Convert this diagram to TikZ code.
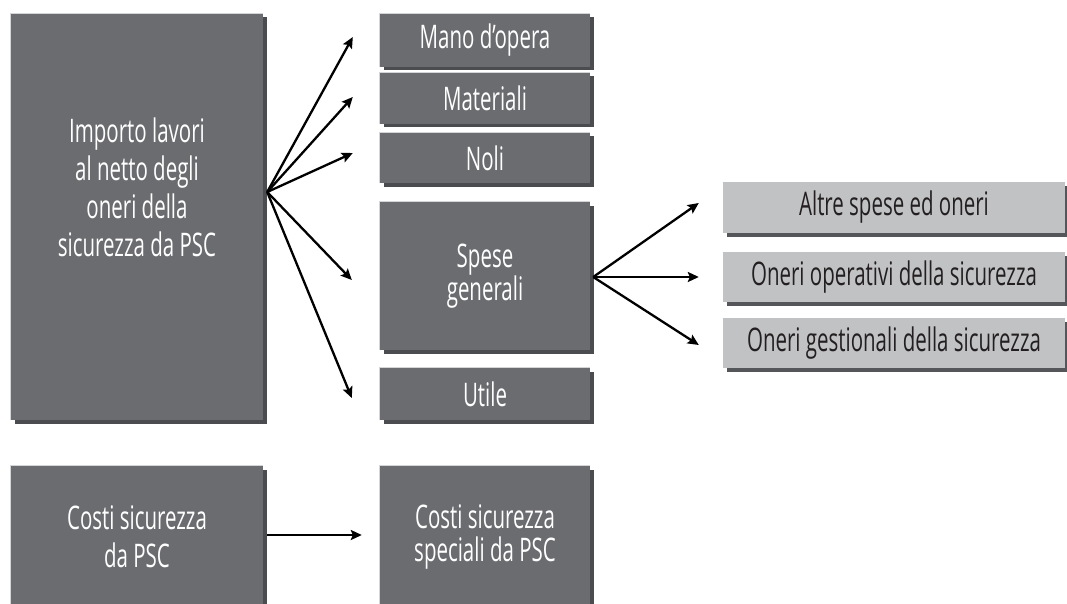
\documentclass[tikz,border=0pt]{standalone}
\usepackage{fontspec}
\setmainfont{Open Sans}[FakeStretch=0.63]
\usetikzlibrary{shadows,arrows.meta}
\definecolor{boxdark}{HTML}{6B6C70}
\definecolor{shdark}{HTML}{4B4C4F}
\definecolor{boxlight}{HTML}{C1C2C4}
\definecolor{shlight}{HTML}{55565A}
\definecolor{txtdark}{HTML}{231F20}
\definecolor{edgelight}{HTML}{D4D5D7}
\tikzset{
  bigfont/.style={font=\fontsize{32.5}{38}\selectfont},
  smallfont/.style={font=\fontsize{32.5}{33}\selectfont},
  darkbox/.style={fill=boxdark, inner sep=0pt, text=white, align=center, bigfont,
    drop shadow={shadow xshift=3.5pt, shadow yshift=-3.5pt, fill=shdark, opacity=1},
    append after command={
      \pgfextra{\draw[edgelight, line width=0.8pt]
        (\tikzlastnode.south west) -- (\tikzlastnode.north west) -- (\tikzlastnode.north east);}}},
  lightbox/.style={fill=boxlight, inner sep=0pt, text=txtdark, align=center,
    minimum width=342pt, minimum height=50pt, bigfont,
    drop shadow={shadow xshift=4pt, shadow yshift=-4pt, fill=shlight, opacity=1}},
  midbox/.style={darkbox, minimum width=210pt},
  arr/.style={line width=2.3pt, -{Stealth[length=11pt,width=10pt,inset=2pt]}}
}
\begin{document}
\begin{tikzpicture}[x=1pt,y=-1pt]
\useasboundingbox (0,0) rectangle (1067,604);
\fill[white] (0,0) rectangle (1067,604);
% left column
\node[darkbox, minimum width=252pt, minimum height=406pt] (imp) at (137,217) {};
\node[text=white, align=center, bigfont, inner sep=0pt] (imptxt) at (137,187)
  {Importo lavori\\al netto degli\\oneri della\\sicurezza da PSC};
\node[darkbox, minimum width=252pt, minimum height=142pt] (costiL) at (137,537)
  {Costi sicurezza\\da PSC};
% middle column
\node[midbox, minimum height=53pt] (mano) at (485,40.5) {Mano d’opera};
\node[midbox, minimum height=51pt] (mat) at (485,98.5) {Materiali};
\node[midbox, minimum height=50pt] (noli) at (485,158) {Noli};
\node[midbox, minimum height=148pt, smallfont] (spese) at (485,276) {Spese\\generali};
\node[midbox, minimum height=52pt] (utile) at (485,394) {Utile};
\node[midbox, minimum height=142pt, smallfont] (costiR) at (485,537)
  {Costi sicurezza\\speciali da PSC};
% right column
\node[lightbox, minimum height=51pt] (altre) at (894,207.5) {Altre spese ed oneri};
\node[lightbox] (oper) at (894,277) {Oneri operativi della sicurezza};
\node[lightbox] (gest) at (894,343) {Oneri gestionali della sicurezza};
% connector points
\coordinate (o1) at ([xshift=4pt]imp.east |- 0,192);
\coordinate (t1) at ([xshift=-27pt,yshift=3.5pt]mano.west);
\coordinate (t2) at ([xshift=-27pt,yshift=1.5pt]mat.west);
\coordinate (t3) at ([xshift=-27pt,yshift=5pt]noli.west);
\coordinate (t4) at ([xshift=-28pt,yshift=-4pt]spese.west);
\coordinate (t5) at ([xshift=-28pt,yshift=-4pt]utile.west);
\draw[arr] (o1) -- (t1);
\draw[arr] (o1) -- (t2);
\draw[arr] (o1) -- (t3);
\draw[arr] (o1) -- (t4);
\draw[arr] (o1) -- (t5);
\coordinate (o2) at ([xshift=3pt,yshift=-1pt]spese.east);
\coordinate (s1) at ([xshift=-24pt,yshift=4.5pt]altre.west);
\coordinate (s2) at ([xshift=-24pt]oper.west);
\coordinate (s3) at ([xshift=-24pt,yshift=-2pt]gest.west);
\draw[arr] (o2) -- (s1);
\draw[arr] (o2) -- (s2);
\draw[arr] (o2) -- (s3);
\coordinate (o3) at ([xshift=4pt]costiL.east |- 0,535);
\coordinate (s4) at ([xshift=-18pt]costiR.west |- 0,535);
\draw[arr] (o3) -- (s4);
\end{tikzpicture}
\end{document}
